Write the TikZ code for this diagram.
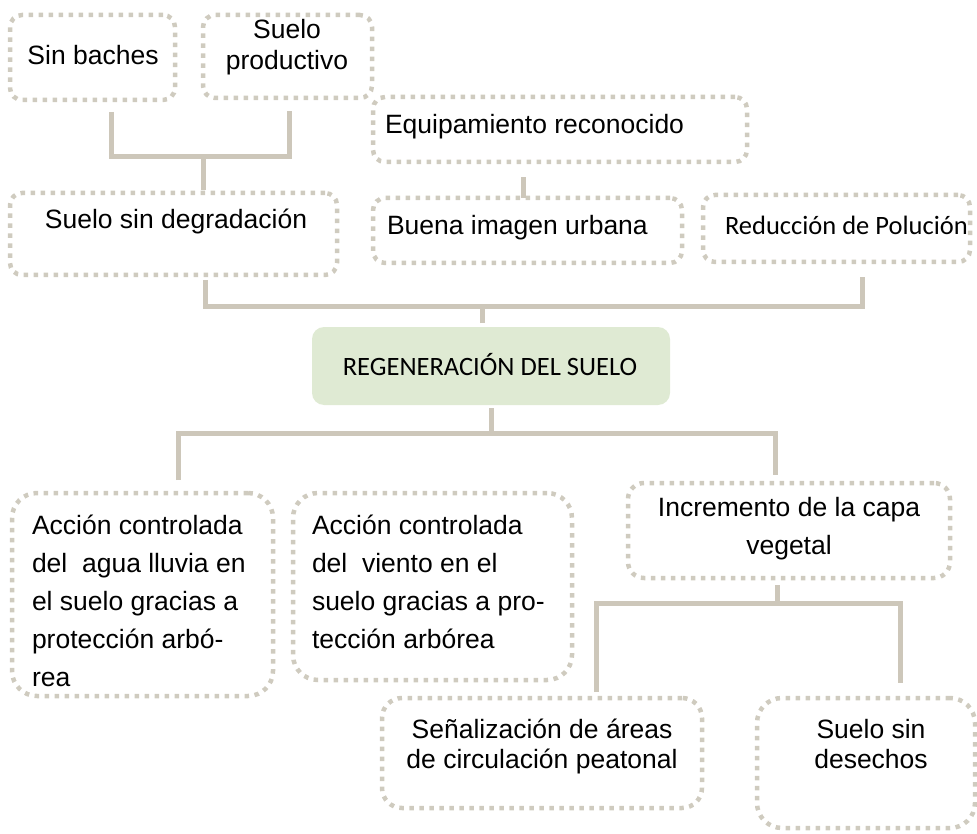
\documentclass[tikz,border=0pt]{standalone}
\usepackage{fontspec}
\setmainfont{Liberation Sans}
\newfontfamily\calfont{Carlito}
\definecolor{dotc}{RGB}{207,203,191}
\definecolor{linec}{RGB}{205,199,186}
\definecolor{greenfill}{RGB}{223,234,211}
\tikzset{
  dotbox/.style={draw=dotc, line width=4.5pt, dash pattern=on 4.5pt off 5.5pt, inner sep=0pt, outer sep=0pt},
  conn/.style={draw=linec, line width=5pt},
  txt/.style={inner sep=0pt, outer sep=0pt, text=black, font=\fontsize{26.5}{38}\selectfont},
  txttight/.style={inner sep=0pt, outer sep=0pt, text=black, font=\fontsize{26.5}{30.5}\selectfont},
}
\newcommand\mybox[6][12pt]{%
  \node[dotbox, rounded corners=#1, minimum width={#5pt-#3pt}, minimum height={#6pt-#4pt}]
    (#2) at ({(#3+#5)/2},{(#4+#6)/2}) {};}
\newcommand\fst{\rule{0pt}{22pt}}
\begin{document}
\begin{tikzpicture}[x=1pt,y=-1pt]
\useasboundingbox (0,0) rectangle (977,834);
% boxes
\mybox{b1}{10}{15}{175}{100}
\mybox{b2}{203}{15}{372}{98}
\mybox{b3}{373}{97}{747}{162}
\mybox{b4}{10}{193}{337}{275}
\mybox{b5}{373}{198}{682}{263}
\mybox{b6}{703}{195}{970}{262}
\node[fill=greenfill, rounded corners=12pt, inner sep=0pt, outer sep=0pt,
      minimum width=358pt, minimum height=78pt] (g) at (491,366) {};
\mybox[25pt]{b8}{12}{493}{273}{696}
\mybox[25pt]{b9}{293}{493}{572}{680}
\mybox[16pt]{b10}{628}{483}{950}{578}
\mybox[20pt]{b11}{382}{698}{702}{808}
\mybox[25pt]{b12}{757}{698}{975}{828}
% texts
\node[txt, anchor=base] (t1) at (93,65) {Sin baches};
\node[txttight, anchor=north, align=center] (t2) at (287,17) {\fst Suelo\\productivo};
\node[txt, anchor=base west] (t3) at (385,134) {Equipamiento reconocido};
\node[txt, anchor=base] (t4) at (176,229) {Suelo sin degradación};
\node[txt, anchor=base west] (t5) at (387,235) {Buena imagen urbana};
\node[txt, anchor=base west] (t6) at (725,235) {\calfont Reducción de Polución};
\node[txt, anchor=base] (tg) at (490,375) {\calfont REGENERACIÓN DEL SUELO};
\node[txt, anchor=north west, align=left] (t8) at (32,512)
  {\fst Acción controlada\\del\ \ agua lluvia en\\el suelo gracias a\\protección arbó-\\rea};
\node[txt, anchor=north west, align=left] (t9) at (312,512)
  {\fst Acción controlada\\del\ \ viento en el\\suelo gracias a pro-\\tección arbórea};
\node[txt, anchor=north, align=center] (t10) at (789,494) {\fst Incremento de la capa\\vegetal};
\node[txttight, anchor=north, align=center] (t11) at (542,716) {\fst Señalización de áreas\\de circulación peatonal};
\node[txttight, anchor=north, align=center] (t12) at (871,716) {\fst Suelo sin\\desechos};
% connectors
\draw[conn] ([xshift=18.5pt,yshift=-12pt]b1.south) -- ++(0,45) -| ([xshift=1.5pt,yshift=-13pt]b2.south);
\draw[conn] ([xshift=29.5pt,yshift=3pt]b4.north) -- ++(0,-36);
\draw[conn] ([xshift=-4.5pt]b5.north) -- ++(0,-21);
\draw[conn] ([xshift=31.5pt,yshift=-5pt]b4.south) -- ++(0,27) -| ([xshift=25.5pt,yshift=-15pt]b6.south);
\draw[conn] ([xshift=-9pt,yshift=4pt]g.north) -- ++(0,-16);
\draw[conn] ([yshift=-3pt]g.south) -- ++(0,25);
\draw[conn] ([xshift=35.5pt,yshift=13pt]b8.north) -- ++(0,-47) -| ([xshift=-14pt,yshift=8pt]b10.north);
\draw[conn] ([xshift=-12pt,yshift=-7pt]b10.south) -- ++(0,20);
\draw[conn] ([xshift=54pt,yshift=6pt]b11.north) -- ++(0,-89) -| ([xshift=34pt,yshift=15pt]b12.north);
\end{tikzpicture}
\end{document}
